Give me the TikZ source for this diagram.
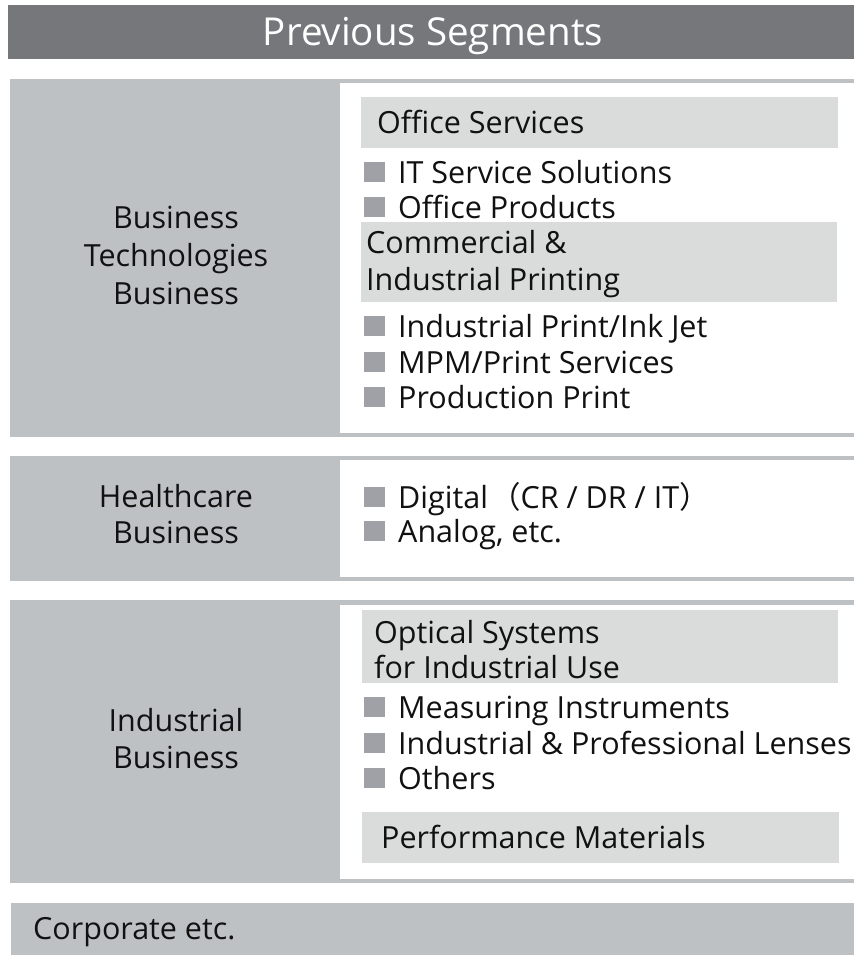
\documentclass[tikz,border=0pt]{standalone}
\usepackage{fontspec}
\setmainfont{Open Sans}
\newfontfamily\cjk{Noto Sans CJK JP}
\definecolor{hdrc}{HTML}{76777B}
\definecolor{outerc}{HTML}{BEC1C4}
\definecolor{innerc}{HTML}{DADCDB}
\definecolor{sqc}{HTML}{A0A1A6}
\definecolor{txtc}{HTML}{111111}
\newcommand\sqb{\textcolor{sqc}{\rule[1pt]{21pt}{20pt}}\hspace{13pt}}
\begin{document}
\begin{tikzpicture}[x=1pt,y=-1pt,
  txt/.style={inner sep=0pt, anchor=base west, text=txtc, font=\fontsize{30.5}{36}\selectfont},
  lbl/.style={inner sep=0pt, anchor=base, text=txtc, font=\fontsize{30.5}{36}\selectfont},
  ttl/.style={inner sep=0pt, anchor=base, text=white, font=\fontsize{38.5}{44}\selectfont}]
\useasboundingbox (0,0) rectangle (854,955);
% header
\fill[hdrc] (8,5) rectangle (854,59);
\node[ttl] (title) at (433,46) {Previous Segments};
% block 1
\fill[outerc] (10,79) rectangle (854,437);
\fill[white] (340,83) rectangle (854,433);
\fill[innerc] (361,97) rectangle (838,148);
\fill[innerc] (361,222) rectangle (837,302);
\node[lbl] (bt1) at (176,228) {Business};
\node[lbl] (bt2) at (176,266) {Technologies};
\node[lbl] (bt3) at (176,304) {Business};
\node[txt] (os) at (377,133) {Office Services};
\node[txt] (it) at (364,183) {\sqb IT Service Solutions};
\node[txt] (op) at (364,218) {\sqb Office Products};
\node[txt] (ci1) at (366,253) {Commercial \&};
\node[txt] (ci2) at (366,290) {Industrial Printing};
\node[txt] (ip) at (364,337) {\sqb Industrial Print/Ink Jet};
\node[txt] (mpm) at (364,373) {\sqb MPM/Print Services};
\node[txt] (pp) at (364,408) {\sqb Production Print};
% block 2
\fill[outerc] (10,456) rectangle (854,581);
\fill[white] (340,460) rectangle (854,577);
\node[lbl] (hc1) at (176,507) {Healthcare};
\node[lbl] (hc2) at (176,543) {Business};
\node[txt] (dig) at (364,508) {\sqb Digital\hspace{2pt}{\cjk （}CR / DR / IT{\cjk ）}};
\node[txt] (ana) at (364,542) {\sqb Analog, etc.};
% block 3
\fill[outerc] (10,600) rectangle (854,883);
\fill[white] (340,605) rectangle (854,879);
\fill[innerc] (362,610) rectangle (838,683);
\fill[innerc] (362,812) rectangle (839,863);
\node[lbl] (ib1) at (176,731) {Industrial};
\node[lbl] (ib2) at (176,768) {Business};
\node[txt] (osy1) at (374,643) {Optical Systems};
\node[txt] (osy2) at (374,678) {for Industrial Use};
\node[txt] (mi) at (364,718) {\sqb Measuring Instruments};
\node[txt] (ipl) at (364,754) {\sqb Industrial \& Professional Lenses};
\node[txt] (oth) at (364,789) {\sqb Others};
\node[txt] (pm) at (381,848) {Performance Materials};
% corporate
\fill[outerc] (11,903) rectangle (854,955);
\node[txt] (corp) at (33,939) {Corporate etc.};
\end{tikzpicture}
\end{document}
